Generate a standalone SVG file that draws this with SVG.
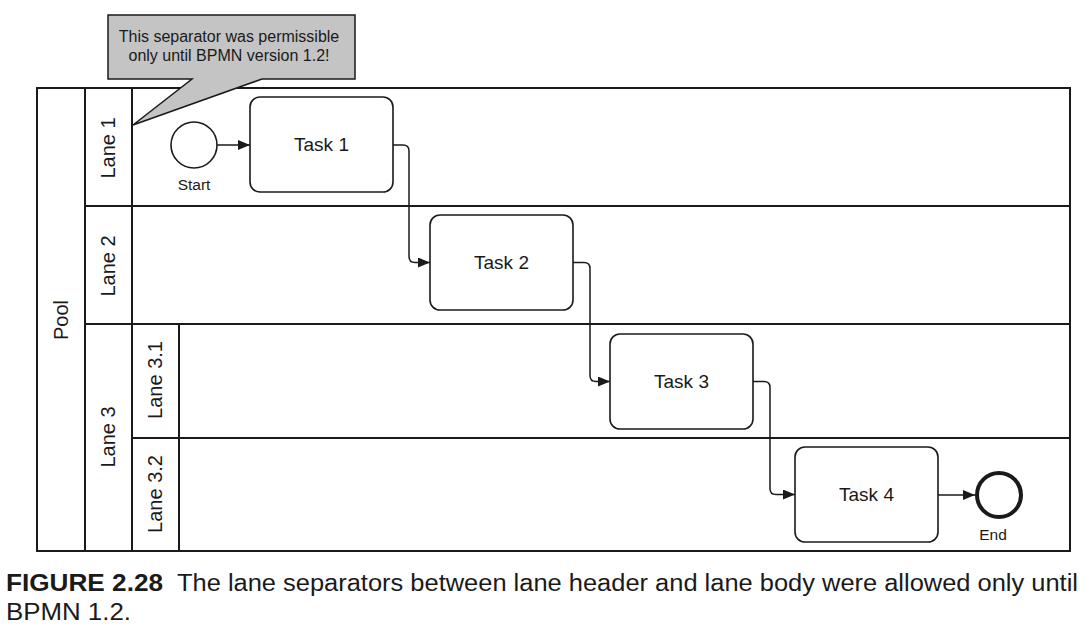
<svg xmlns="http://www.w3.org/2000/svg" width="1089" height="637" viewBox="0 0 1089 637">
<style>
.ln{fill:none;stroke:#1a1a1a;stroke-width:2}
.task{fill:#fff;stroke:#1a1a1a;stroke-width:1.6}
.t{font-family:"Liberation Sans",Arial,sans-serif;fill:#1a1a1a}
.lbl{font-size:19px;text-anchor:middle;dominant-baseline:central}
.lane{font-size:20px;text-anchor:middle;dominant-baseline:central}
.small{font-size:15.5px;text-anchor:middle}
.flow{fill:none;stroke:#1a1a1a;stroke-width:1.5}
</style>
<defs>
<marker id="ah" viewBox="0 0 12 10" refX="12" refY="5" markerWidth="12" markerHeight="10" markerUnits="userSpaceOnUse" orient="auto">
<path d="M0,0 L12,5 L0,10 z" fill="#1a1a1a"/>
</marker>
</defs>
<rect width="1089" height="637" fill="#fff"/>
<g id="pool">
<rect class="ln" x="37" y="88" width="1033" height="463"/>
<line class="ln" x1="85" y1="88" x2="85" y2="551"/>
<line class="ln" x1="132" y1="88" x2="132" y2="551"/>
<line class="ln" x1="179" y1="324" x2="179" y2="551"/>
<line class="ln" x1="85" y1="206" x2="1070" y2="206"/>
<line class="ln" x1="85" y1="324" x2="1070" y2="324"/>
<line class="ln" x1="132" y1="438" x2="1070" y2="438"/>
<text class="t lane" transform="translate(61,320) rotate(-90)">Pool</text>
</g>
<g id="lane1"><text class="t lane" transform="translate(108,148) rotate(-90)">Lane 1</text></g>
<g id="lane2"><text class="t lane" transform="translate(108,266) rotate(-90)">Lane 2</text></g>
<g id="lane3"><text class="t lane" transform="translate(108,437) rotate(-90)">Lane 3</text></g>
<g id="lane31"><text class="t lane" transform="translate(155,380) rotate(-90)">Lane 3.1</text></g>
<g id="lane32"><text class="t lane" transform="translate(155,494) rotate(-90)">Lane 3.2</text></g>
<g id="callout">
<path d="M108,15 H355 V79 H262 L133,125 L192,79 H108 Z" fill="#c4c4c4" stroke="#1a1a1a" stroke-width="1.5"/>
<text class="t" font-size="16" text-anchor="middle" x="229" y="42">This separator was permissible</text>
<text class="t" font-size="16" text-anchor="middle" x="229" y="61">only until BPMN version 1.2!</text>
</g>
<g id="start">
<circle cx="194" cy="145" r="23" fill="#fff" stroke="#1a1a1a" stroke-width="1.6"/>
<text class="t small" x="194" y="190">Start</text>
</g>
<g id="task1"><rect class="task" x="250" y="97" width="143" height="95" rx="10"/><text class="t lbl" x="321.5" y="144.5">Task 1</text></g>
<g id="task2"><rect class="task" x="430" y="215" width="143" height="95" rx="10"/><text class="t lbl" x="501.5" y="262.5">Task 2</text></g>
<g id="task3"><rect class="task" x="610" y="334" width="143" height="95" rx="10"/><text class="t lbl" x="681.5" y="381.5">Task 3</text></g>
<g id="task4"><rect class="task" x="795" y="447" width="143" height="95" rx="10"/><text class="t lbl" x="866.5" y="494.5">Task 4</text></g>
<g id="end">
<circle cx="999" cy="495" r="22" fill="#fff" stroke="#1a1a1a" stroke-width="4"/>
<text class="t small" x="993" y="540">End</text>
</g>
<g id="connectors">
<path class="flow" d="M217,145 H250" marker-end="url(#ah)"/>
<path class="flow" d="M393,145 H403 Q409,145 409,151 V256.5 Q409,262.5 415,262.5 H430" marker-end="url(#ah)"/>
<path class="flow" d="M573,262.5 H584 Q590,262.5 590,268.5 V375.5 Q590,381.5 596,381.5 H610" marker-end="url(#ah)"/>
<path class="flow" d="M753,381.5 H764 Q770,381.5 770,387.5 V488.5 Q770,494.5 776,494.5 H795" marker-end="url(#ah)"/>
<path class="flow" d="M938,495 H975" marker-end="url(#ah)"/>
</g>
<g id="caption">
<text class="t" font-size="23" font-weight="bold" x="6" y="591" textLength="157" lengthAdjust="spacingAndGlyphs">FIGURE 2.28</text>
<text class="t" font-size="23" x="177" y="591" textLength="901" lengthAdjust="spacingAndGlyphs">The lane separators between lane header and lane body were allowed only until</text>
<text class="t" font-size="23" x="6" y="620" textLength="125" lengthAdjust="spacingAndGlyphs">BPMN 1.2.</text>
</g>
</svg>
